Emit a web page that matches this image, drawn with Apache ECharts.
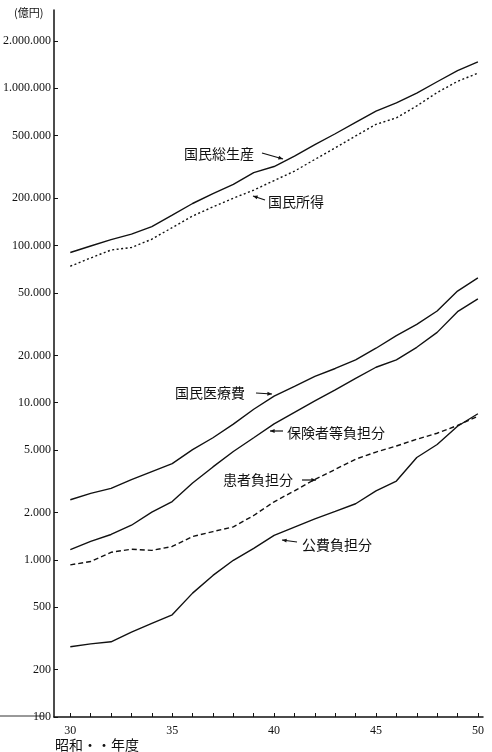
<!DOCTYPE html>
<html>
<head>
<meta charset="utf-8">
<script src="https://cdn.jsdelivr.net/npm/echarts@6/dist/echarts.min.js"></script>
<style>
  html, body { margin: 0; padding: 0; background: #fff; }
  #chart { width: 492px; height: 752px; }
</style>
</head>
<body>
<div id="chart"></div>
<script>
// 昭和年度
const years = [30, 31, 32, 33, 34, 35, 36, 37, 38, 39, 40, 41, 42, 43, 44, 45, 46, 47, 48, 49, 50];
const labelYears = [30, 35, 40, 45, 50];
const yTicks = [100, 200, 500, 1000, 2000, 5000, 10000, 20000, 50000, 100000, 200000, 500000, 1000000, 2000000];

// 億円
const gnp = [90200, 99300, 109000, 118000, 132000, 156000, 185000, 214000, 245000, 291000, 318000,
  370000, 438000, 514000, 607000, 716000, 809000, 933000, 1101000, 1297000, 1472000];
const income = [73800, 83300, 93600, 97100, 109600, 130000, 154000, 176000, 200000, 225000, 259000,
  297000, 353000, 418000, 498000, 590000, 649000, 773000, 940000, 1107000, 1248000];
const medical = [2410, 2650, 2850, 3240, 3640, 4090, 5020, 5980, 7300, 9080, 11000,
  12680, 14700, 16500, 18700, 22200, 26700, 31500, 38300, 51300, 62200];
const insurer = [1160, 1310, 1450, 1660, 2010, 2350, 3080, 3900, 4890, 5980, 7330,
  8670, 10260, 12070, 14260, 16800, 18740, 22500, 28000, 37900, 45800];
const patient = [929, 975, 1117, 1169, 1148, 1216, 1407, 1513, 1622, 1915, 2340,
  2750, 3250, 3760, 4370, 4850, 5300, 5850, 6390, 7160, 8200];
const publicShare = [280, 292, 301, 347, 394, 447, 614, 796, 993, 1183, 1430,
  1615, 1824, 2033, 2274, 2747, 3170, 4480, 5420, 7080, 8500];

const jpFont = '"Noto Sans CJK JP", sans-serif';
const numFont = '"Liberation Serif", "DejaVu Serif", serif';

function pairs(vals) {
  return years.map((y, i) => [y, vals[i]]);
}

function fmt(v) {
  return String(v).replace(/\B(?=(\d{3})+(?!\d))/g, ".");
}

function line(name, vals, dash) {
  return {
    name: name,
    type: "line",
    data: pairs(vals),
    symbol: "none",
    smooth: false,
    lineStyle: { color: "#111", width: 1.4, type: dash || "solid" },
    silent: true
  };
}

function arrow(x1, y1, x2, y2) {
  const a = Math.atan2(y2 - y1, x2 - x1);
  const h = 5;
  return {
    type: "group",
    children: [
      { type: "line", shape: { x1: x1, y1: y1, x2: x2, y2: y2 }, style: { stroke: "#111", lineWidth: 1.2 } },
      {
        type: "polygon",
        shape: {
          points: [
            [x2, y2],
            [x2 - h * Math.cos(a - 0.4), y2 - h * Math.sin(a - 0.4)],
            [x2 - h * Math.cos(a + 0.4), y2 - h * Math.sin(a + 0.4)]
          ]
        },
        style: { fill: "#111" }
      }
    ]
  };
}

function label(text, x, y) {
  return {
    type: "text",
    x: x,
    y: y,
    style: { text: text, fill: "#111", font: "14px " + jpFont, verticalAlign: "middle" }
  };
}

const chart = echarts.init(document.getElementById("chart"));
chart.setOption({
  animation: false,
  backgroundColor: "#fff",
  grid: { left: 51, right: 9, top: 10, bottom: 35 },
  xAxis: {
    type: "value",
    min: 29.2,
    max: 50.25,
    axisLine: { lineStyle: { color: "#111", width: 1.5 } },
    axisTick: { inside: true, length: 4, customValues: years, lineStyle: { color: "#111", width: 1 } },
    axisLabel: { customValues: labelYears, color: "#111", fontFamily: numFont, fontSize: 12, margin: 8 },
    splitLine: { show: false }
  },
  yAxis: {
    type: "log",
    logBase: 10,
    min: 100,
    max: 3150000,
    axisLine: { show: true, lineStyle: { color: "#111", width: 1.5 } },
    axisTick: { inside: true, length: 4, customValues: yTicks, lineStyle: { color: "#111", width: 1 } },
    axisLabel: {
      customValues: yTicks,
      color: "#111",
      fontFamily: numFont,
      fontSize: 12,
      margin: 3,
      formatter: (v) => fmt(v)
    },
    minorTick: { show: false },
    splitLine: { show: false }
  },
  series: [
    line("国民総生産", gnp),
    line("国民所得", income, [2, 2.5]),
    line("国民医療費", medical),
    line("保険者等負担分", insurer),
    line("患者負担分", patient, [5, 3]),
    line("公費負担分", publicShare)
  ],
  graphic: [
    { type: "text", x: 14, y: 13, style: { text: "(億円)", fill: "#111", font: "11px " + jpFont, verticalAlign: "middle" } },
    { type: "text", x: 55, y: 745, style: { text: "昭和・・年度", fill: "#111", font: "14px " + jpFont, verticalAlign: "middle" } },
    { type: "line", shape: { x1: 0, y1: 716, x2: 44, y2: 716 }, style: { stroke: "#333", lineWidth: 1 } },
    label("国民総生産", 184, 154),
    arrow(262, 153, 283, 159),
    label("国民所得", 268, 202),
    arrow(265, 200, 253, 196),
    label("国民医療費", 175, 393),
    arrow(256, 393, 272, 394),
    label("保険者等負担分", 287, 433),
    arrow(283, 431, 270, 431),
    label("患者負担分", 223, 480),
    arrow(302, 480, 316, 480),
    label("公費負担分", 302, 545),
    arrow(297, 542, 282, 540)
  ]
});
</script>
</body>
</html>
